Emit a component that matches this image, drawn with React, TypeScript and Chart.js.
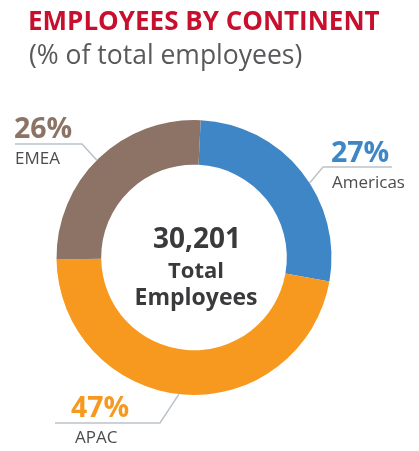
import React, { useEffect, useRef } from "react";
import { Chart, registerables } from "chart.js";

Chart.register(...registerables);

const categories = ["Americas", "APAC", "EMEA"];
const shares = [27, 47, 26];
const percentLabels = ["27%", "47%", "26%"];
const totalEmployees = "30,201";
const centerLines = ["Total", "Employees"];
const titleText = "EMPLOYEES BY CONTINENT";
const subtitleText = "(% of total employees)";

const sliceColors = ["#3F86C6", "#F7991E", "#8C7366"];
const FONT = "'Open Sans', 'Noto Sans', sans-serif";

// label layout (annotation placement, not data)
const labelLayout = [
  { frac: 0.56, elbowX: 323, elbowY: 167, lineEndX: 392, pctX: 331, pctY: 162, nameX: 332, nameY: 188 },
  { frac: 0.51, elbowX: 160, elbowY: 423, lineEndX: 55, pctX: 71, pctY: 417, nameX: 75, nameY: 443 },
  { frac: 0.49, elbowX: 82, elbowY: 144, lineEndX: 15, pctX: 14, pctY: 138, nameX: 15, nameY: 164 },
];

const annotationsPlugin = {
  id: "annotations",
  afterDraw(chart: any) {
    const ctx: CanvasRenderingContext2D = chart.ctx;
    ctx.save();
    // title + subtitle
    ctx.textAlign = "left";
    ctx.textBaseline = "alphabetic";
    ctx.fillStyle = "#C8102E";
    ctx.font = `bold 26px ${FONT}`;
    ctx.fillText(titleText, 28, 30);
    ctx.fillStyle = "#58595B";
    ctx.font = `26.5px ${FONT}`;
    ctx.fillText(subtitleText, 29, 64);

    const meta = chart.getDatasetMeta(0);
    meta.data.forEach((arc: any, i: number) => {
      const p = arc.getProps(["x", "y", "startAngle", "endAngle", "outerRadius"], true);
      const L = labelLayout[i];
      const a = p.startAngle + (p.endAngle - p.startAngle) * L.frac;
      const sx = p.x + Math.cos(a) * p.outerRadius;
      const sy = p.y + Math.sin(a) * p.outerRadius;
      ctx.strokeStyle = "#BCC2C7";
      ctx.lineWidth = 1.5;
      ctx.beginPath();
      ctx.moveTo(sx, sy);
      ctx.lineTo(L.elbowX, L.elbowY);
      ctx.lineTo(L.lineEndX, L.elbowY);
      ctx.stroke();

      ctx.textAlign = "left";
      ctx.fillStyle = sliceColors[i];
      ctx.font = `bold 28.5px ${FONT}`;
      ctx.fillText(percentLabels[i], L.pctX, L.pctY);
      ctx.fillStyle = "#4D4D4F";
      ctx.font = `17px ${FONT}`;
      ctx.fillText(categories[i], L.nameX, L.nameY);
    });

    // center text
    const first = meta.data[0];
    if (first) {
      const cx = first.x;
      const cy = first.y;
      ctx.textAlign = "center";
      ctx.fillStyle = "#3A3A3C";
      ctx.font = `bold 28px ${FONT}`;
      ctx.fillText(totalEmployees, cx + 3, cy - 10);
      ctx.font = `bold 22px ${FONT}`;
      ctx.fillText(centerLines[0], cx + 2, cy + 20);
      ctx.font = `bold 23px ${FONT}`;
      ctx.fillText(centerLines[1], cx + 2, cy + 47);
    }
    ctx.restore();
  },
};

export default function App() {
  const canvasRef = useRef<HTMLCanvasElement | null>(null);

  useEffect(() => {
    if (!canvasRef.current) return;
    const chart = new Chart(canvasRef.current, {
      type: "doughnut",
      data: {
        labels: categories,
        datasets: [
          {
            data: shares,
            backgroundColor: sliceColors,
            borderWidth: 0,
          },
        ],
      },
      options: {
        animation: false,
        responsive: true,
        maintainAspectRatio: false,
        cutout: "67.5%",
        rotation: 2.8,
        layout: { padding: { left: 56, right: 87, top: 120, bottom: 56 } },
        plugins: {
          legend: { display: false },
          tooltip: { enabled: false },
          title: { display: false },
        },
        events: [],
      },
      plugins: [annotationsPlugin],
    });
    return () => chart.destroy();
  }, []);

  return (
    <div style={{ position: "absolute", left: 0, top: 0, width: 419, height: 451, background: "#fff" }}>
      <canvas ref={canvasRef} />
    </div>
  );
}
